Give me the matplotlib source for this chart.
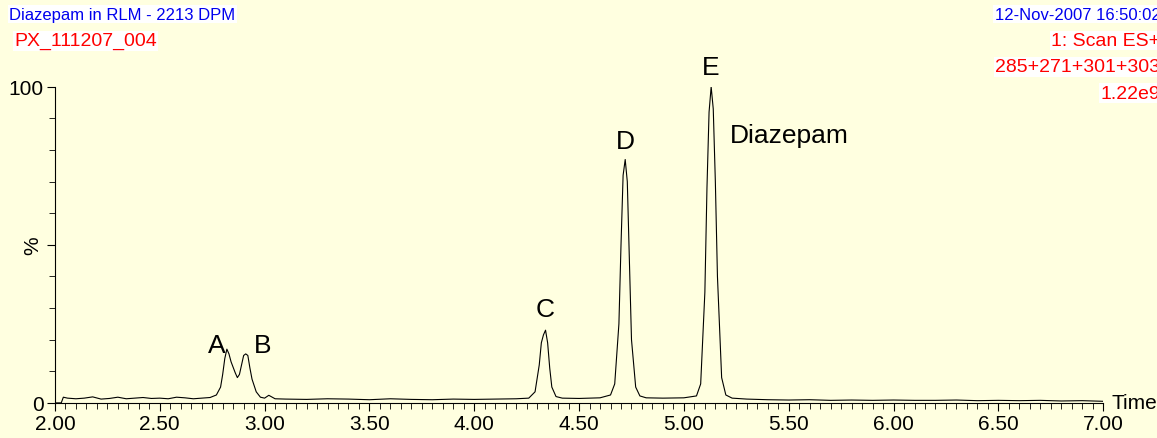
import matplotlib
matplotlib.use('Agg')
import matplotlib.pyplot as plt
from matplotlib.ticker import MultipleLocator

# chromatogram trace (time in min, intensity in %)
time = [2.00, 2.03, 2.04, 2.06, 2.10, 2.14, 2.18, 2.22, 2.26, 2.30, 2.34, 2.38,
        2.42, 2.46, 2.50, 2.54, 2.58, 2.62, 2.66, 2.70, 2.74, 2.77, 2.79,
        2.80, 2.81, 2.82, 2.83, 2.84, 2.86, 2.87, 2.88, 2.89, 2.90, 2.91,
        2.92, 2.93, 2.94, 2.96, 2.98, 3.00, 3.02, 3.05, 3.10, 3.20, 3.30,
        3.40, 3.50, 3.60, 3.70, 3.80, 3.90, 4.00, 4.10, 4.20, 4.26, 4.29,
        4.31, 4.32, 4.33, 4.34, 4.35, 4.36, 4.37, 4.39, 4.42, 4.50, 4.60,
        4.65, 4.67, 4.69, 4.70, 4.71, 4.72, 4.73, 4.74, 4.75, 4.77, 4.79,
        4.82, 4.90, 5.00, 5.06, 5.08, 5.10, 5.11, 5.12, 5.13, 5.14, 5.15,
        5.16, 5.18, 5.20, 5.23, 5.30, 5.40, 5.50, 5.60, 5.70, 5.80, 5.90,
        6.00, 6.10, 6.20, 6.30, 6.40, 6.50, 6.60, 6.70, 6.80, 6.90, 7.00]
intensity = [0.0, 0.0, 1.8, 1.5, 1.3, 1.5, 1.9, 1.2, 1.4, 1.8, 1.3, 1.5,
             1.7, 1.4, 1.5, 1.3, 1.8, 1.6, 1.3, 1.5, 1.7, 2.5, 5.0,
             9.0, 14.0, 17.0, 15.5, 13.0, 9.5, 8.0, 9.0, 12.0, 15.0, 15.5,
             15.0, 11.0, 7.5, 3.5, 1.8, 1.5, 2.4, 1.3, 1.2, 1.1, 1.3,
             1.2, 1.0, 1.3, 1.1, 1.0, 1.2, 1.1, 1.2, 1.3, 1.5, 3.5,
             12.0, 19.0, 21.5, 23.0, 19.0, 11.0, 5.0, 2.0, 1.5, 1.4, 1.6,
             2.5, 6.0, 25.0, 50.0, 72.0, 77.0, 70.0, 45.0, 20.0, 5.0, 2.2,
             1.6, 1.5, 1.6, 2.2, 6.0, 35.0, 68.0, 92.0, 100.0, 93.0, 70.0,
             40.0, 8.0, 2.5, 1.5, 1.2, 1.0, 0.9, 1.0, 0.8, 0.9, 0.8,
             0.9, 0.8, 0.8, 0.9, 0.7, 0.8, 0.7, 0.8, 0.6, 0.7, 0.5]

peak_labels = ['A', 'B', 'C', 'D', 'E']
peak_pos = [(2.77, 14.5), (2.99, 14.5), (4.34, 26), (4.72, 79), (5.13, 102.5)]

bg = '#FFFFE0'
fig = plt.figure(figsize=(11.57, 4.39), dpi=100, facecolor=bg)
ax = fig.add_axes([0.0475, 0.08, 0.906, 0.72], facecolor=bg)
ax.plot(time, intensity, color='black', lw=0.8)

for lab, (x, y) in zip(peak_labels, peak_pos):
    ax.text(x, y, lab, fontsize=19, ha='center', va='bottom', family='Liberation Sans')
ax.text(5.22, 81, 'Diazepam', fontsize=19, ha='left', va='bottom', family='Liberation Sans')

ax.set_xlim(2.0, 7.0)
ax.set_ylim(0, 100)
for s in ['top', 'right']:
    ax.spines[s].set_visible(False)
ax.spines['bottom'].set_bounds(2.0, 7.0)
ax.set_xticks([2.0 + 0.5 * i for i in range(11)])
ax.set_xticklabels([f'{2.0 + 0.5 * i:.2f}' for i in range(11)])
ax.xaxis.set_minor_locator(MultipleLocator(0.05))
ax.set_yticks([0, 50, 100])
ax.set_yticklabels(['0', '', '100'])
ax.yaxis.set_minor_locator(MultipleLocator(10))
ax.tick_params(axis='both', labelsize=15, length=6, direction='out', pad=2)
ax.tick_params(which='minor', length=4)
for t in ax.get_xticklabels() + ax.get_yticklabels():
    t.set_family('Liberation Sans')
ax.text(-0.012, 0.5, '%', transform=ax.transAxes, rotation=90, fontsize=15,
        ha='right', va='center', family='Liberation Sans')
ax.text(7.04, 0, 'Time', fontsize=15, ha='left', va='center', family='Liberation Sans')

box = dict(facecolor='white', edgecolor='none', pad=1)
fig.text(0.008, 0.955, 'Diazepam in RLM - 2213 DPM', color='#0000EE', fontsize=12,
         family='Liberation Sans', bbox=box)
fig.text(0.012, 0.895, 'PX_111207_004', color='red', fontsize=14,
         family='Liberation Sans', bbox=box)
rtxt = [('12-Nov-2007 16:50:02', '#0000EE', 0.955, 12),
        ('1: Scan ES+', 'red', 0.895, 14),
        ('285+271+301+303', 'red', 0.835, 14),
        ('1.22e9', 'red', 0.775, 14)]
for s, c, y, fs in rtxt:
    fig.text(1.003, y, s, color=c, fontsize=fs, ha='right', family='Liberation Sans', bbox=box)

fig.savefig('out.png', dpi=100, facecolor=bg)
